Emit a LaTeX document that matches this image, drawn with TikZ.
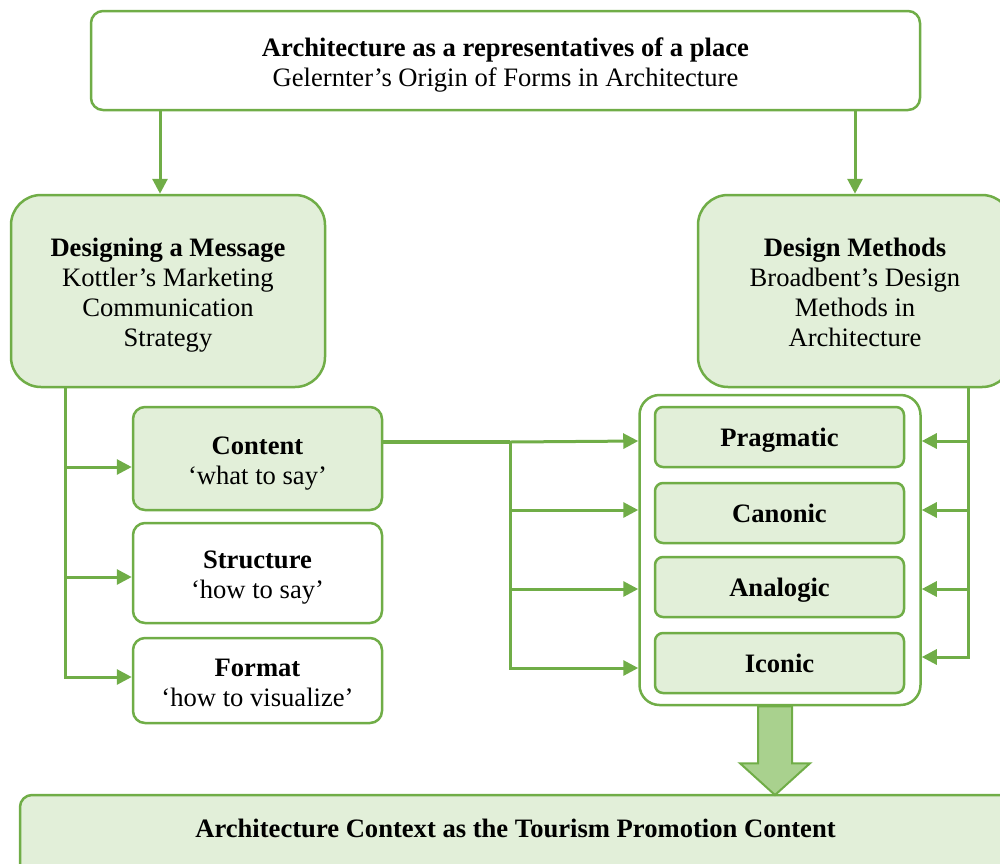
\documentclass[tikz,border=0pt]{standalone}
\usepackage{fontspec}
\setmainfont{Liberation Serif}
\usetikzlibrary{arrows.meta,calc}
\definecolor{gline}{HTML}{70AD47}
\definecolor{gfill}{HTML}{E2EFD9}
\definecolor{gblock}{HTML}{A9D18E}
\newcommand{\firststrut}{\rule{0pt}{13.7pt}}
\newcommand{\laststrut}{\rule[-3pt]{0pt}{0pt}}
\newcommand{\onestrut}{\rule[-3pt]{0pt}{15.1pt}}
\begin{document}
\begin{tikzpicture}[x=0.5pt,y=-0.5pt,
  txt/.style={font=\fontsize{13.3}{15}\selectfont, align=center},
  boxbase/.style={draw=gline, line width=1.25pt, inner sep=0pt, txt},
  topbox/.style={boxbase, fill=white, rounded corners=6pt},
  bigbox/.style={boxbase, fill=gfill, rounded corners=15pt, minimum width=157pt, minimum height=96pt},
  subbox/.style={boxbase, rounded corners=6pt, minimum width=124.5pt},
  methbox/.style={boxbase, fill=gfill, rounded corners=4pt, minimum width=124.5pt, minimum height=30pt},
  contbox/.style={boxbase, fill=white, rounded corners=10pt, minimum width=140.5pt, minimum height=155pt},
  conn/.style={draw=gline, line width=1.5pt},
  arr/.style={conn, -{Triangle[length=7.5pt,width=7.5pt]}},
  blockarr/.style={draw=gline, line width=1pt, fill=gblock}
]
\useasboundingbox (0,0) rectangle (1000,863);
\clip (0,0) rectangle (1000,863);

% top box
\node[topbox, minimum width=414.5pt, minimum height=49.5pt] (top) at (505.5,60.5)
  {\firststrut\textbf{Architecture as a representatives of a place}\\Gelernter’s Origin of Forms in Architecture\laststrut};

% two main boxes
\node[bigbox] (msg) at (168,291)
  {\firststrut\textbf{Designing a Message}\\Kottler’s Marketing\\Communication\\Strategy\laststrut};
\node[bigbox] (meth) at (855,291)
  {\firststrut\textbf{Design Methods}\\Broadbent’s Design\\Methods in\\Architecture\laststrut};

% left sub boxes
\node[subbox, fill=gfill, minimum height=51.5pt] (content) at (257.5,458.5)
  {\firststrut\textbf{Content}\\‘what to say’\laststrut};
\node[subbox, fill=white, minimum height=50pt] (structure) at (257.5,573)
  {\firststrut\textbf{Structure}\\‘how to say’\laststrut};
\node[subbox, fill=white, minimum height=42.5pt] (format) at (257.5,680.5)
  {\firststrut\textbf{Format}\\‘how to visualize’\laststrut};

% container and method boxes
\node[contbox] (cont) at (780,550) {};
\node[methbox] (prag) at (779.5,437) {\onestrut\textbf{Pragmatic}};
\node[methbox] (cano) at (779.5,513) {\onestrut\textbf{Canonic}};
\node[methbox] (analo) at (779.5,587) {\onestrut\textbf{Analogic}};
\node[methbox] (icon) at (779.5,663) {\onestrut\textbf{Iconic}};

% bottom box
\draw[draw=gline, line width=1.25pt, fill=gfill, rounded corners=6pt] (20,795) rectangle (1011,890);
\node[txt] (bottom) at (515.5,828) {\onestrut\textbf{Architecture Context as the Tourism Promotion Content}};
\coordinate (bottomtop) at (775,795);

% helper coordinates
\coordinate (xl) at (160,0);
\coordinate (tl) at (65,0);
\coordinate (jm) at (510,442);
\coordinate (tr) at (968,0);
\coordinate (la) at (0,467);
\coordinate (lb) at (0,577);
\coordinate (lc) at (0,677);
\coordinate (ma) at (0,441);
\coordinate (mb) at (0,510);
\coordinate (mc) at (0,589);
\coordinate (md) at (0,668);
\coordinate (rd) at (0,657);

% top arrows
\draw[arr] (top.south -| xl) -- (msg.north -| xl);
\draw[arr] (top.south -| meth.north) -- (meth.north);

% left trunk
\draw[arr] (msg.south -| tl) |- (format.west |- lc);
\draw[arr] (tl |- la) -- (content.west |- la);
\draw[arr] (tl |- lb) -- (structure.west |- lb);

% content to methods
\draw[conn, line width=2.2pt] (content.east |- jm) -- (jm);
\draw[arr] (jm) -- (cont.west |- ma);
\draw[arr] (jm) |- (cont.west |- md);
\draw[arr] (jm |- mb) -- (cont.west |- mb);
\draw[arr] (jm |- mc) -- (cont.west |- mc);

% right trunk
\draw[arr] (meth.south -| tr) |- (cont.east |- rd);
\draw[arr] (tr |- ma) -- (cont.east |- ma);
\draw[arr] (tr |- mb) -- (cont.east |- mb);
\draw[arr] (tr |- mc) -- (cont.east |- mc);

% block arrow
\coordinate (ba) at (cont.south -| bottomtop);
\draw[blockarr] ($(ba)+(-17,0)$) -- ($(ba)+(17,0)$) -- ($(ba)+(17,57)$) -- ($(ba)+(35,57)$)
  -- (bottomtop) -- ($(ba)+(-35,57)$) -- ($(ba)+(-17,57)$) -- cycle;
\end{tikzpicture}
\end{document}
